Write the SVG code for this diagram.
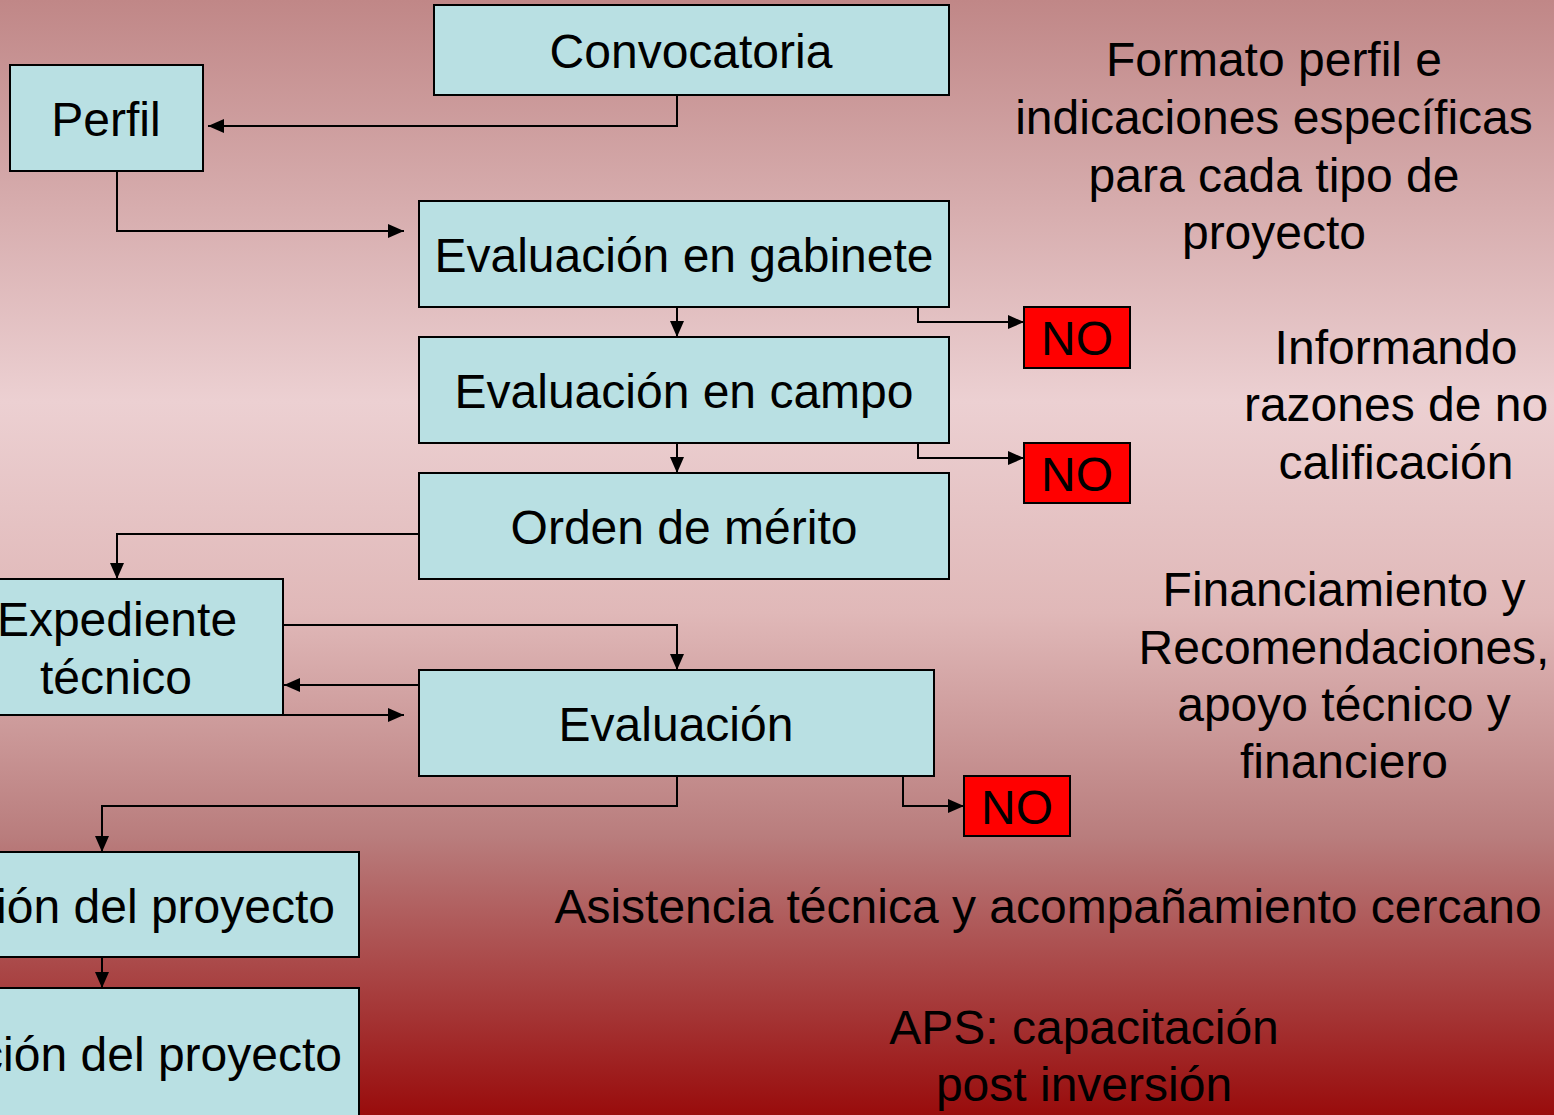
<svg xmlns="http://www.w3.org/2000/svg" width="1554" height="1115" viewBox="0 0 1554 1115">
<defs>
<linearGradient id="bg" x1="0" y1="0" x2="0" y2="1">
<stop offset="0" stop-color="#c08787"/>
<stop offset="0.36" stop-color="#ecd0d2"/>
<stop offset="0.55" stop-color="#e0b8b8"/>
<stop offset="0.75" stop-color="#b97d7d"/>
<stop offset="1" stop-color="#990c0c"/>
</linearGradient>
<marker id="ah" markerWidth="16" markerHeight="14" refX="16" refY="7" orient="auto" markerUnits="userSpaceOnUse">
<path d="M0,0 L16,7 L0,14 Z" fill="#000"/>
</marker>
<style>
.box{fill:#b9e0e3;stroke:#000;stroke-width:2}
.no{fill:#ff0000;stroke:#000;stroke-width:2}
.t{font-family:"Liberation Sans",Arial,sans-serif;font-size:48px;fill:#000;text-anchor:middle}
.c{fill:none;stroke:#000;stroke-width:2;marker-end:url(#ah)}
</style>
</defs>
<rect x="0" y="0" width="1554" height="1115" fill="url(#bg)"/>

<g id="connectors">
<path class="c" d="M677,95 V126 H208"/>
<path class="c" d="M117,171 V231 H404"/>
<path class="c" d="M677,307 V337"/>
<path class="c" d="M918,307 V322 H1024"/>
<path class="c" d="M677,443 V473"/>
<path class="c" d="M918,443 V458 H1024"/>
<path class="c" d="M419,534 H117 V579"/>
<path class="c" d="M283,625 H677 V670"/>
<path class="c" d="M419,685 H284"/>
<path class="c" d="M283,715 H404"/>
<path class="c" d="M677,776 V806 H102 V852"/>
<path class="c" d="M903,776 V806 H964"/>
<path class="c" d="M102,957 V988"/>
</g>

<g id="convocatoria"><rect class="box" x="434" y="5" width="515" height="90"/><text class="t" x="691" y="68">Convocatoria</text></g>
<g id="perfil"><rect class="box" x="10" y="65" width="193" height="106"/><text class="t" x="106" y="136">Perfil</text></g>
<g id="gabinete"><rect class="box" x="419" y="201" width="530" height="106"/><text class="t" x="684" y="272">Evaluación en gabinete</text></g>
<g id="campo"><rect class="box" x="419" y="337" width="530" height="106"/><text class="t" x="684" y="408">Evaluación en campo</text></g>
<g id="orden"><rect class="box" x="419" y="473" width="530" height="106"/><text class="t" x="684" y="544">Orden de mérito</text></g>
<g id="expediente"><rect class="box" x="-50" y="579" width="333" height="136"/><text class="t" x="117" y="636">Expediente</text><text class="t" x="116" y="694">técnico</text></g>
<g id="evaluacion"><rect class="box" x="419" y="670" width="515" height="106"/><text class="t" x="676" y="741">Evaluación</text></g>
<g id="ejecucion"><rect class="box" x="-50" y="852" width="409" height="105"/><text class="t" x="335" y="923" style="text-anchor:end">ión del proyecto</text></g>
<g id="evaluacion-final"><rect class="box" x="-50" y="988" width="409" height="140"/><text class="t" x="342" y="1071" style="text-anchor:end">ción del proyecto</text></g>

<g id="no1"><rect class="no" x="1024" y="307" width="106" height="61"/><text class="t" x="1077" y="355">NO</text></g>
<g id="no2"><rect class="no" x="1024" y="443" width="106" height="60"/><text class="t" x="1077" y="491">NO</text></g>
<g id="no3"><rect class="no" x="964" y="776" width="106" height="60"/><text class="t" x="1017" y="824">NO</text></g>

<g id="notes">
<text class="t" x="1274" y="76">Formato perfil e</text>
<text class="t" x="1274" y="134">indicaciones específicas</text>
<text class="t" x="1274" y="192">para cada tipo de</text>
<text class="t" x="1274" y="249">proyecto</text>
<text class="t" x="1396" y="364">Informando</text>
<text class="t" x="1396" y="421">razones de no</text>
<text class="t" x="1396" y="479">calificación</text>
<text class="t" x="1344" y="606">Financiamiento y</text>
<text class="t" x="1344" y="664">Recomendaciones,</text>
<text class="t" x="1344" y="721">apoyo técnico y</text>
<text class="t" x="1344" y="778">financiero</text>
<text class="t" x="1048" y="923">Asistencia técnica y acompañamiento cercano</text>
<text class="t" x="1084" y="1044">APS: capacitación</text>
<text class="t" x="1084" y="1101">post inversión</text>
</g>
</svg>
